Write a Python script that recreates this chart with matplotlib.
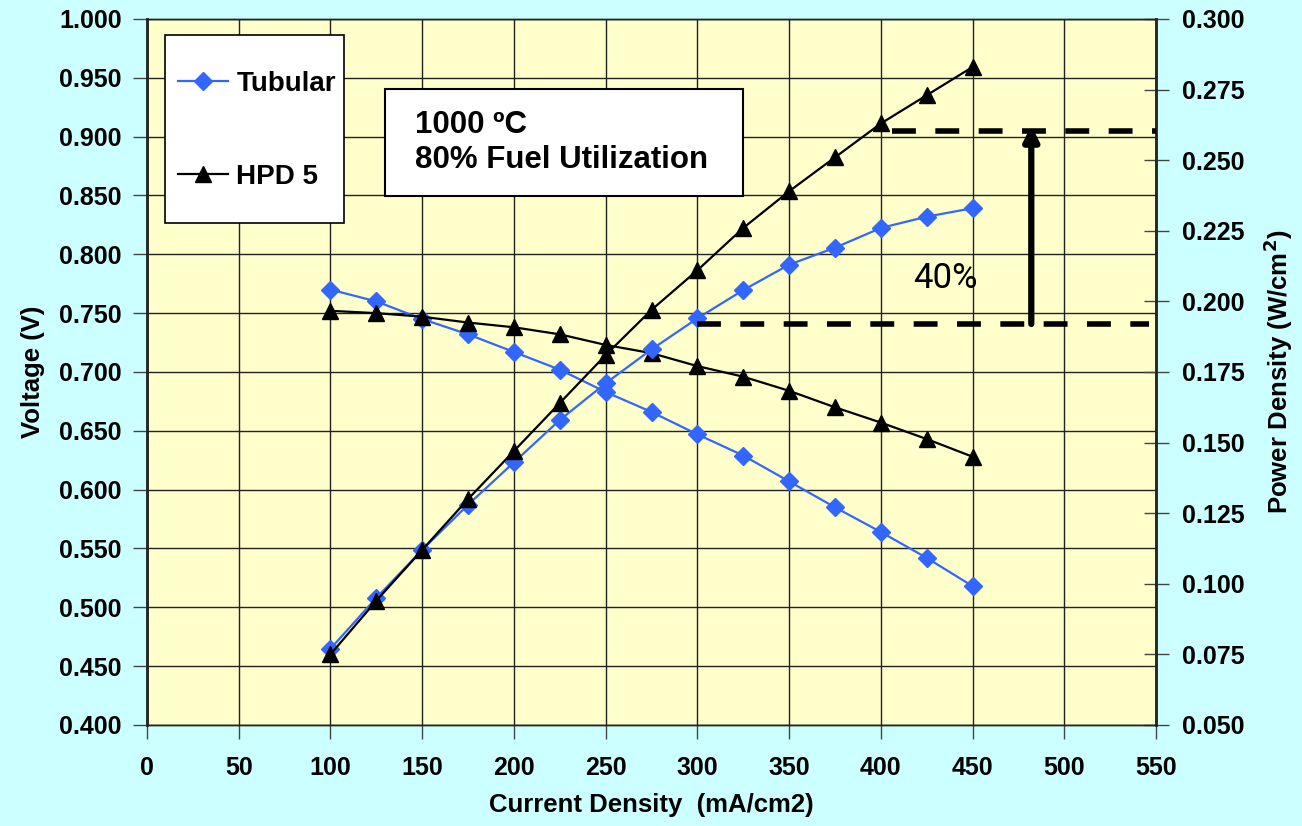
import matplotlib.pyplot as plt
from matplotlib.patches import Rectangle

plt.rcParams['font.family'] = ['Liberation Sans', 'DejaVu Sans']

# current density (mA/cm2)
current = [100, 125, 150, 175, 200, 225, 250, 275, 300, 325, 350, 375, 400, 425, 450]

# cell voltage (V)
v_tubular = [0.770, 0.760, 0.745, 0.732, 0.717, 0.702, 0.683, 0.666, 0.647,
             0.629, 0.607, 0.585, 0.564, 0.542, 0.518]
v_hpd5 = [0.752, 0.750, 0.747, 0.742, 0.738, 0.732, 0.723, 0.716, 0.705,
          0.696, 0.684, 0.670, 0.657, 0.643, 0.628]

# power density (W/cm2)
p_tubular = [0.077, 0.095, 0.112, 0.128, 0.143, 0.158, 0.171, 0.183, 0.194,
             0.204, 0.213, 0.219, 0.226, 0.230, 0.233]
p_hpd5 = [0.075, 0.094, 0.112, 0.130, 0.147, 0.164, 0.181, 0.197, 0.211,
          0.226, 0.239, 0.251, 0.263, 0.273, 0.283]

# reference levels for the 40% gain
p_low = 0.192
p_high = 0.2603

blue = '#3366FF'
bg = '#CCFFFF'
plotbg = '#FFFFCC'

fig = plt.figure(figsize=(13.02, 8.26), dpi=100, facecolor=bg)
ax = fig.add_axes([0.1129, 0.1223, 0.775, 0.8547])
ax.set_facecolor(plotbg)
ax2 = ax.twinx()

l1, = ax.plot(current, v_tubular, color=blue, lw=1.6, marker='D', ms=9.5,
              label='Tubular', zorder=3)
l2, = ax.plot(current, v_hpd5, color='black', lw=1.6, marker='^', ms=12,
              label='HPD 5', zorder=3)
ax2.plot(current, p_tubular, color=blue, lw=1.6, marker='D', ms=9.5, zorder=3)
ax2.plot(current, p_hpd5, color='black', lw=1.6, marker='^', ms=12, zorder=3)

ax.set_xlim(0, 550)
ax.set_ylim(0.4, 1.0)
ax2.set_ylim(0.05, 0.30)
ax.set_xticks(range(0, 551, 50))
ax.set_yticks([0.4 + 0.05 * i for i in range(13)])
ax2.set_yticks([0.05 + 0.025 * i for i in range(11)])
ax.yaxis.set_major_formatter(plt.FormatStrFormatter('%.3f'))
ax2.yaxis.set_major_formatter(plt.FormatStrFormatter('%.3f'))

ax.grid(True, color='#222222', lw=1.0)
ax.set_axisbelow(True)

for a in (ax, ax2):
    for s in a.spines.values():
        s.set_color('#222222')
        s.set_linewidth(1.0)
    a.tick_params(labelsize=18, width=1, length=10, color='#444444')
    for lab in a.get_xticklabels() + a.get_yticklabels():
        lab.set_fontweight('bold')
ax.spines['left'].set_linewidth(2)
ax2.spines['right'].set_linewidth(2)
ax.tick_params(axis='x', pad=12)
ax.tick_params(axis='y', pad=8)
ax2.tick_params(axis='y', direction='inout', length=18, pad=10)

ax.set_xlabel('Current Density  (mA/cm2)', fontsize=18.5, fontweight='bold', labelpad=10)
ax.set_ylabel('Voltage (V)', fontsize=18.5, fontweight='bold', labelpad=10)
ax2.set_ylabel('Power Density (W/cm$^\\mathbf{2}$)', fontsize=18.5, fontweight='bold',
               labelpad=12)

# dashed levels and the gain arrow
ax2.plot([300, 546], [p_low, p_low], color='black', lw=4, dashes=(4.3, 3.5),
         zorder=4)
ax2.plot([406, 550], [p_high, p_high], color='black', lw=4, dashes=(4.3, 3.5),
         zorder=4)
ax2.annotate('', xy=(482, p_high + 0.002), xytext=(482, p_low),
             arrowprops=dict(arrowstyle='-|>', lw=4.5, color='black',
                             mutation_scale=22, shrinkA=0, shrinkB=0),
             zorder=5)
ax2.text(435, 0.208, '40%', fontsize=25, ha='center', va='center',
         family=['Roboto', 'Liberation Sans'], zorder=5)

# condition box
ax2.add_patch(Rectangle((0.2359, 0.7493), 0.3548, 0.1516, transform=ax2.transAxes,
                        facecolor='white', edgecolor='black', lw=1.5, zorder=6))
ax2.text(0.2656, 0.8245, '1000 ºC\n80% Fuel Utilization', transform=ax2.transAxes,
         fontsize=22.5, fontweight='bold', ha='left', va='center', linespacing=1.22,
         zorder=7)

# legend frame drawn separately so the rows can sit far apart
ax2.add_patch(Rectangle((0.0178, 0.711), 0.1774, 0.2663, transform=ax2.transAxes,
                        facecolor='white', edgecolor='black', lw=1.2, zorder=6))
leg = ax2.legend([l1, l2], ['Tubular', 'HPD 5'], loc='upper left',
                 bbox_to_anchor=(0.0307, 0.9265), frameon=False,
                 prop={'size': 20, 'weight': 'bold'}, labelspacing=2.4,
                 borderpad=0, handlelength=1.8, handletextpad=0.3,
                 borderaxespad=0)
leg.set_zorder(8)

fig.savefig('out.png', dpi=100, facecolor=bg)
